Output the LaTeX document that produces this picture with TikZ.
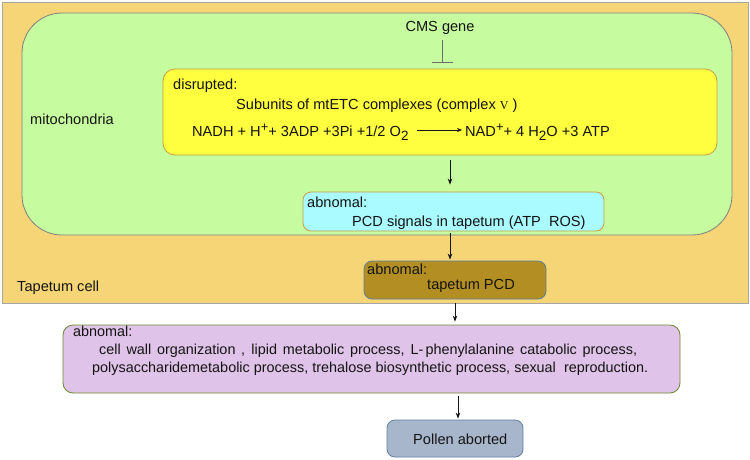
\documentclass[tikz,border=0pt]{standalone}
\usepackage{fontspec}
\setmainfont{Liberation Sans}
\usetikzlibrary{arrows.meta}

\definecolor{cellfill}{RGB}{245,213,118}
\definecolor{mitofill}{RGB}{198,251,159}
\definecolor{yelfill}{RGB}{255,255,64}
\definecolor{cyanfill}{RGB}{169,251,255}
\definecolor{brownfill}{RGB}{179,143,35}
\definecolor{purfill}{RGB}{224,195,232}
\definecolor{pollfill}{RGB}{168,182,204}
\definecolor{goldline}{RGB}{200,160,64}
\definecolor{blueline}{RGB}{96,128,160}
\definecolor{oliveline}{RGB}{106,138,48}
\definecolor{barline}{RGB}{110,110,110}
\definecolor{ink}{RGB}{20,20,20}

\newcommand\upscr[1]{\raisebox{4.5pt}{\fontsize{13}{13}\selectfont #1}}
\newcommand\dnscr[1]{\raisebox{-4pt}{\fontsize{13.5}{13}\selectfont #1}}

\tikzset{
 box/.style={draw, line width=0.8pt, inner sep=0pt},
 txt/.style={anchor=base west, inner sep=0pt, text=ink, font=\fontsize{14.6}{16}\selectfont},
 smalltxt/.style={txt, font=\fontsize{14.4}{16}\selectfont},
 arr/.style={-{Stealth[length=6pt,width=4.5pt]}, line width=0.8pt, ink},
}

\begin{document}
\begin{tikzpicture}[x=1pt,y=-1pt]
\useasboundingbox (0,0) rectangle (750,459);

% compartments
\node[box, draw=gray!70, fill=cellfill, minimum width=746pt, minimum height=301pt] (cell) at (375,152.5) {};
\node[box, draw=gray, fill=mitofill, rounded corners=40pt, minimum width=710pt, minimum height=222pt] (mito) at (377,124) {};
\node[txt] (mitolbl) at (30,124) {mitochondria};
\node[txt] (celllbl) at (17,291) {Tapetum cell};

% boxes
\node[box, draw=goldline, fill=yelfill, rounded corners=12pt, minimum width=554pt, minimum height=86pt] (yellow) at (440,112) {};
\node[box, draw=goldline, fill=cyanfill, rounded corners=8pt, minimum width=301pt, minimum height=39pt] (cyan) at (453.5,211.5) {};
\node[box, draw=blueline, fill=brownfill, rounded corners=8pt, minimum width=182pt, minimum height=38pt] (brown) at (455,280) {};
\node[box, draw=oliveline, fill=purfill, rounded corners=10pt, minimum width=617pt, minimum height=68pt] (purple) at (371.5,359) {};
\node[box, draw=blueline, fill=pollfill, rounded corners=8pt, minimum width=136pt, minimum height=37pt] (pollen) at (455,438.5) {};

% texts
\node[txt, anchor=base] (cms) at (440,31) {CMS gene};
\coordinate (cmsbar) at (442,63);
\draw[-{Bar[width=21pt]}, barline, line width=0.7pt] (442,40) -- (cmsbar);

\node[txt] (dis) at (173,89) {disrupted:};
\node[txt] (sub) at (236,109) {Subunits of mtETC complexes (complex {\fontspec{Liberation Serif}\fontsize{12}{12}\selectfont V} )};
\node[txt] (lhs) at (192,136) {NADH + H\upscr{+}+ 3ADP +3Pi +1/2 O\dnscr{2}};
\node[txt] (rhs) at (465,136) {NAD\upscr{+}+ 4 H\dnscr{2}O +3 ATP};
\draw[-{Stealth[length=5pt,width=4pt]}, ink, line width=0.6pt] (417,130) -- (462,130);

\node[txt] (ab1) at (307,207) {abnomal:};
\node[txt] (pcd) at (352,226) {PCD signals in tapetum (ATP\ \ ROS)};
\node[txt] (ab2) at (367,274) {abnomal:};
\node[txt] (tpcd) at (427,289) {tapetum PCD};
\node[smalltxt] (ab3) at (73,336) {abnomal:};
\node[smalltxt] (proc1) at (99,354) {\makebox[538pt][s]{cell wall organization , lipid metabolic process, L-\kern2pt phenylalanine catabolic process,}};
\node[smalltxt] (proc2) at (92,372) {\makebox[556pt][s]{polysaccharidemetabolic process, trehalose biosynthetic process, sexual\ \ reproduction.}};
\node[txt] (abort) at (413,444) {Pollen aborted};

% connectors
\draw[arr, shorten <=5pt, shorten >=7pt] ([xshift=10pt]yellow.south) -- ([xshift=-3.5pt]cyan.north);
\draw[arr, shorten <=2pt, shorten >=1pt] ([xshift=-3.5pt]cyan.south) -- ([xshift=-5pt]brown.north);
\draw[arr, shorten <=4pt, shorten >=3pt] (brown.south) -- (brown.south |- purple.north);
\draw[arr, shorten <=3pt, shorten >=1pt] ([xshift=3pt]pollen.north |- purple.south) -- ([xshift=3pt]pollen.north);
\end{tikzpicture}
\end{document}
